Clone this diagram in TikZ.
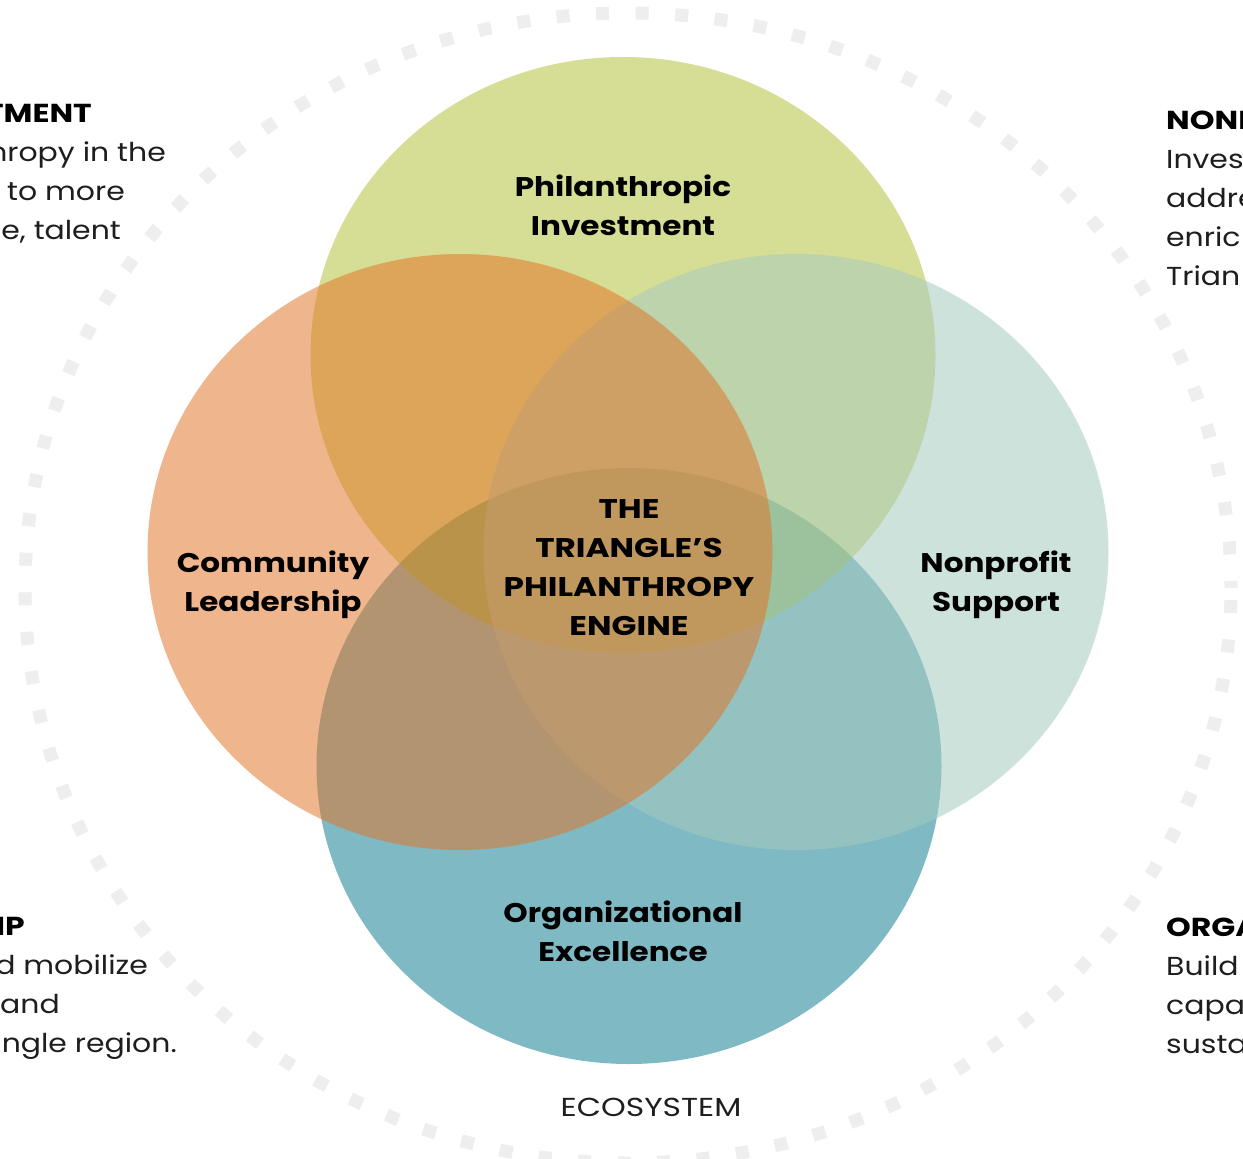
\documentclass[tikz,border=0pt]{standalone}
\usepackage{fontspec}
\setmainfont{Poppins}
\newfontfamily\widefont[FakeStretch=1.15]{Poppins}
\newfontfamily\widerfont[FakeStretch=1.21]{Poppins}
\definecolor{ringgray}{RGB}{238,238,238}
\definecolor{pblue}{RGB}{127,185,196}
\definecolor{pgreen}{RGB}{165,180,20}
\definecolor{pteal}{RGB}{166,203,192}
\definecolor{porange}{RGB}{226,115,36}
\definecolor{textgray}{RGB}{30,30,30}
\begin{document}
\begin{tikzpicture}[x=1pt,y=-1pt,
  ring/.style={draw=ringgray, line width=13pt, dash pattern=on 13pt off 26.6pt, dash phase=6pt},
  petal/.style={x radius=312.5pt, y radius=298pt},
  lbl/.style={font=\widefont\fontsize{27}{39}\selectfont\bfseries, align=center, text=black, inner sep=0pt},
  caplbl/.style={lbl, font=\widerfont\fontsize{27}{39}\selectfont\bfseries},
  side/.style={font=\widefont\fontsize{26}{39}\selectfont, text=textgray, inner sep=0pt},
  sidehead/.style={side, font=\widerfont\fontsize{26}{39}\selectfont\bfseries, text=black}]
\useasboundingbox (0,0) rectangle (1243,1159);
\clip (0,0) rectangle (1243,1159);
\fill[white] (0,0) rectangle (1243,1159);

% dotted outer ring
\draw[ring] (628,588) ellipse [x radius=603pt, y radius=575pt];

% the four overlapping areas
\fill[pblue] (629,766) ellipse [petal];
\fill[pgreen, fill opacity=0.45] (623,355) ellipse [petal];
\fill[pteal, fill opacity=0.54] (796,552) ellipse [petal];
\fill[porange, fill opacity=0.52] (460,552) ellipse [petal];

% labels of the areas
\node[lbl] (invest) at (623,205) {Philanthropic\\Investment};
\node[lbl] (lead) at (273,585) {Community\\Leadership};
\node[lbl] (support) at (996,585) {Nonprofit\\Support};
\node[lbl] (excel) at (623,931) {Organizational\\Excellence};
\node[caplbl] (engine) at (629,568) {THE\\TRIANGLE’S\\PHILANTHROPY\\ENGINE};
\node[side, font=\widerfont\fontsize{26}{39}\selectfont] (eco) at (651,1107) {ECOSYSTEM};

% side descriptions, upper left
\node[sidehead, anchor=base east] (tl1) at (92,122) {TMENT};
\node[side, anchor=base east] (tl2) at (166,161) {hropy in the};
\node[side, anchor=base east] (tl3) at (125,200) {to more};
\node[side, anchor=base east] (tl4) at (121,239) {e, talent};

% side descriptions, lower left
\node[sidehead, anchor=base east] (bl1) at (25,935) {IP};
\node[side, anchor=base east] (bl2) at (148,974) {d mobilize};
\node[side, anchor=base east] (bl3) at (60,1013) {and};
\node[side, anchor=base east] (bl4) at (177,1052) {ngle region.};

% side descriptions, upper right
\node[sidehead, anchor=base west] (tr1) at (1166,129) {NONP};
\node[side, anchor=base west] (tr2) at (1166,168) {Inves};
\node[side, anchor=base west] (tr3) at (1166,207) {addre};
\node[side, anchor=base west] (tr4) at (1166,246) {enric};
\node[side, anchor=base west] (tr5) at (1166,285) {Trian};

% side descriptions, lower right
\node[sidehead, anchor=base west] (br1) at (1166,936) {ORGA};
\node[side, anchor=base west] (br2) at (1166,975) {Build};
\node[side, anchor=base west] (br3) at (1166,1014) {capac};
\node[side, anchor=base west] (br4) at (1166,1053) {susta};
\end{tikzpicture}
\end{document}
